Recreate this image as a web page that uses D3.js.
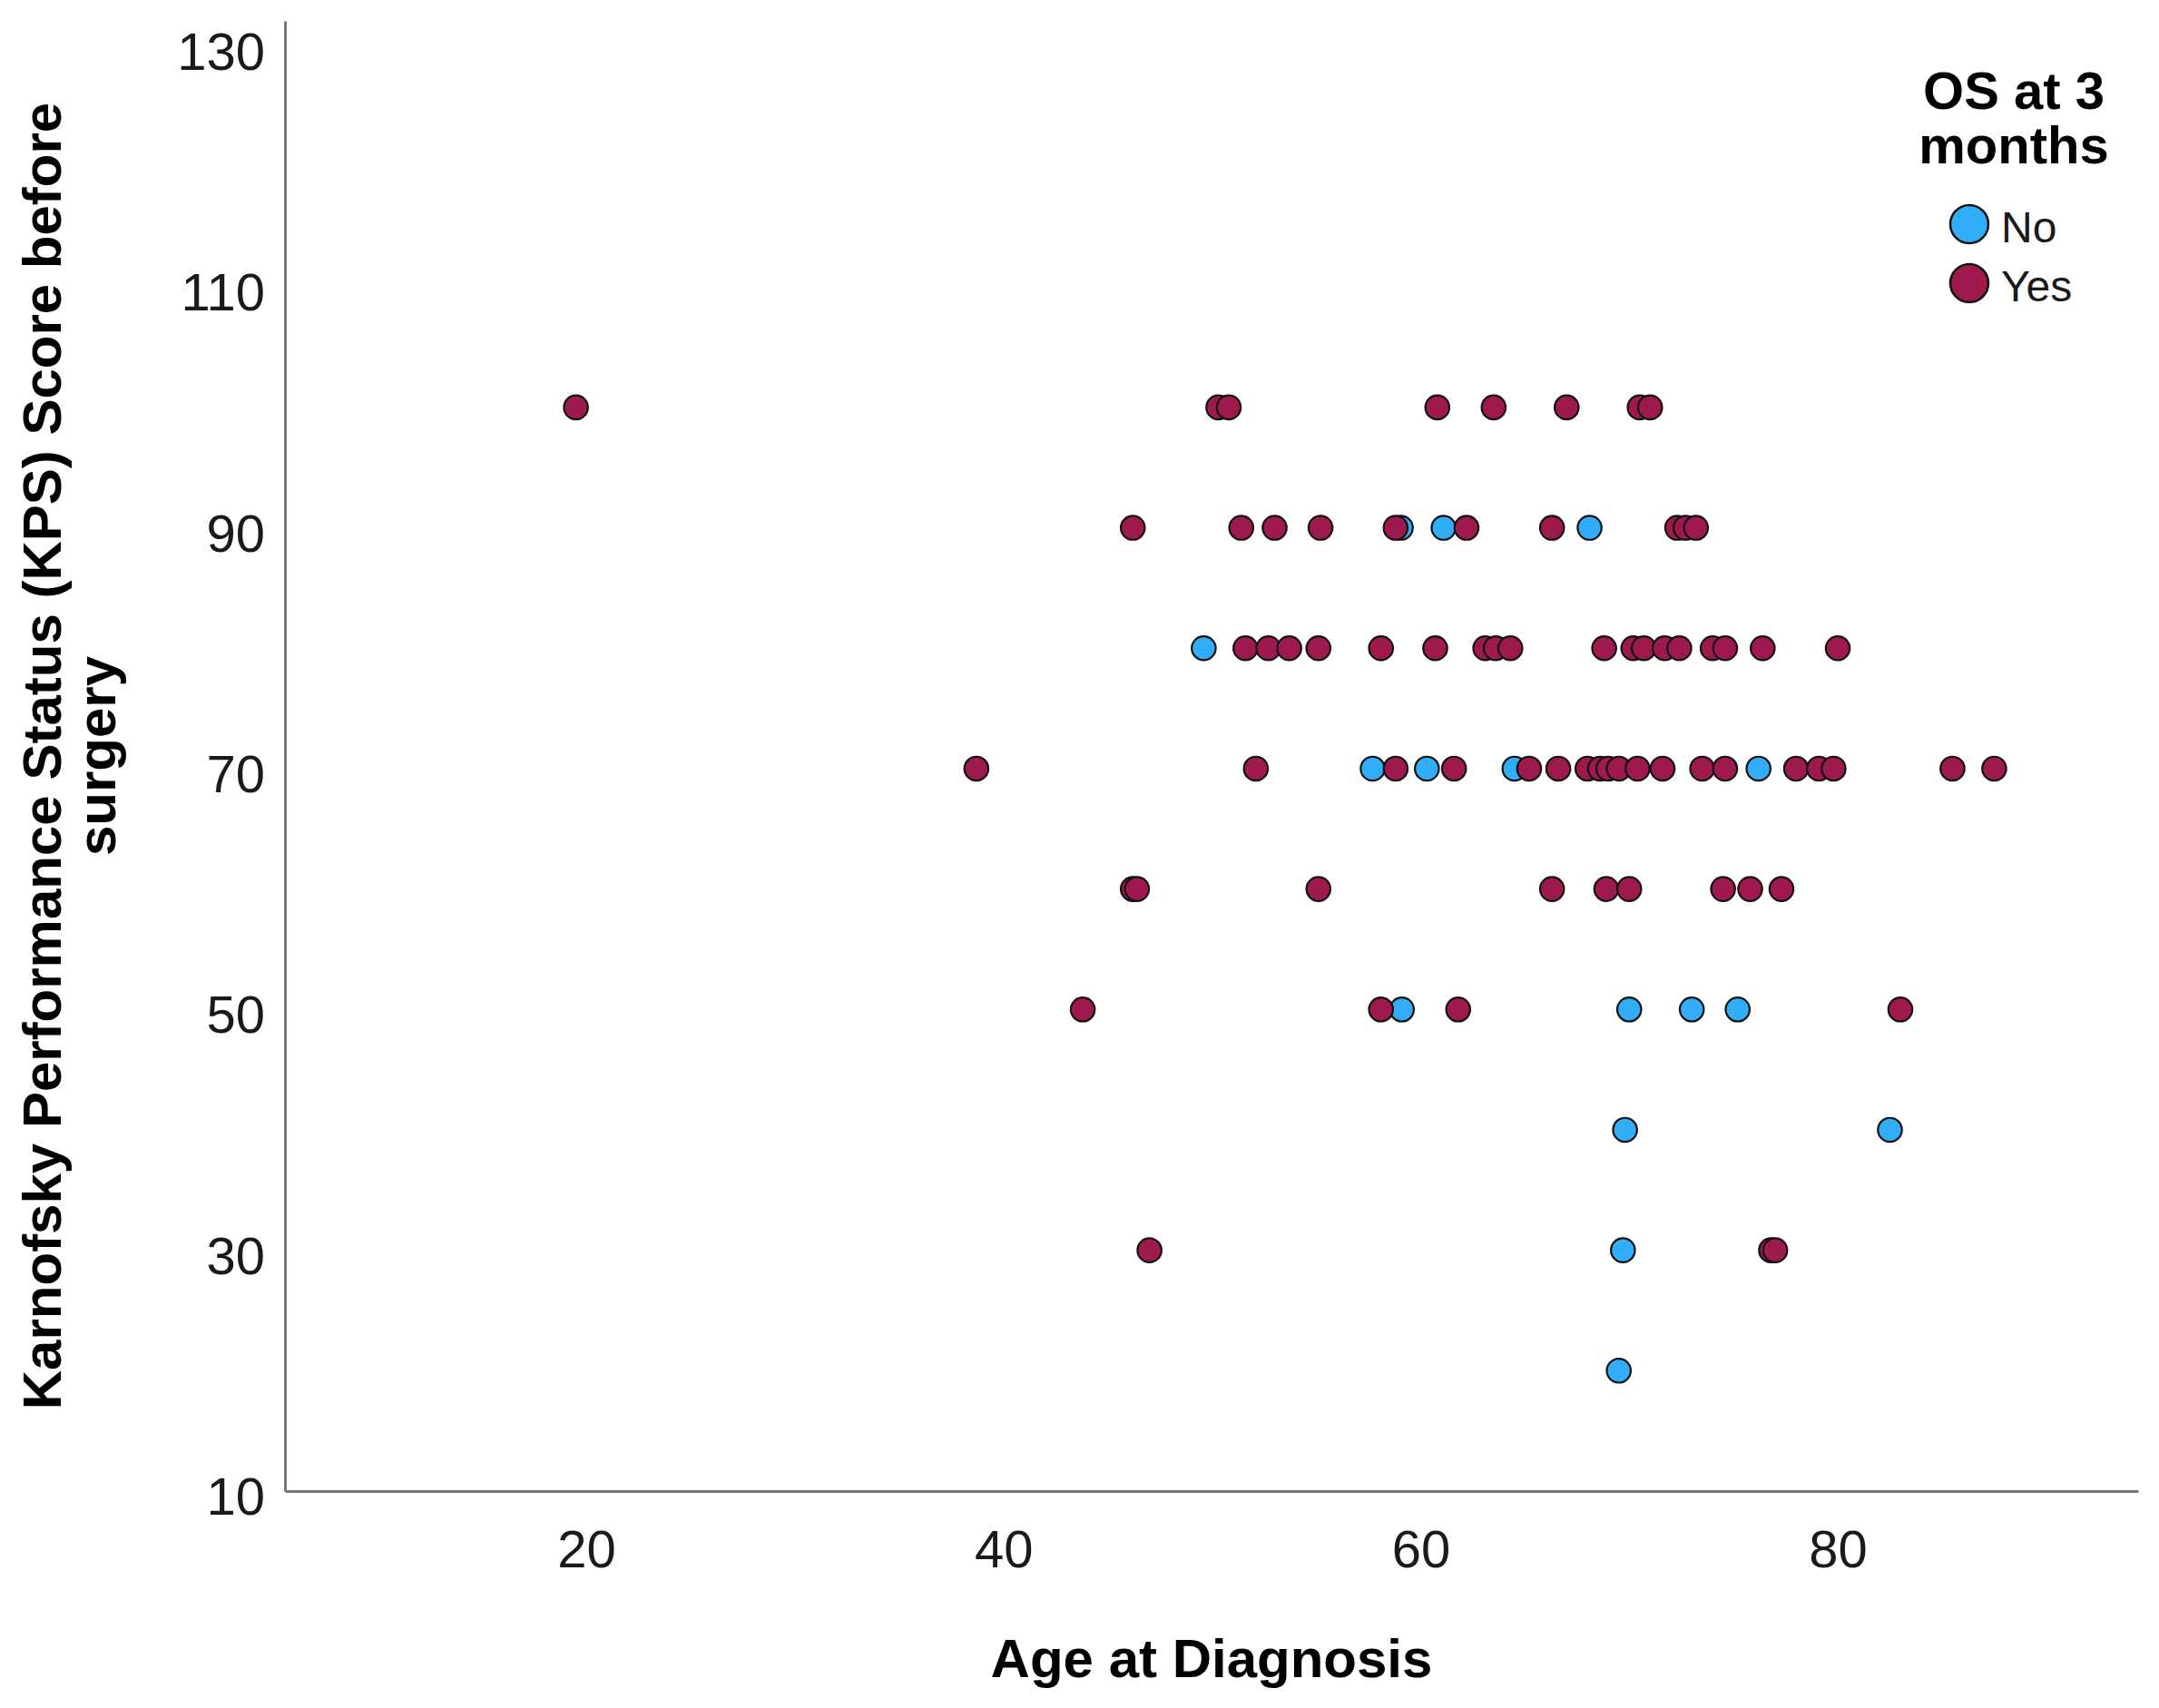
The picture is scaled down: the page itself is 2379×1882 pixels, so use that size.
<!DOCTYPE html>
<html>
<head>
<meta charset="utf-8">
<script src="https://cdn.jsdelivr.net/npm/d3@7"></script>
<style>
  html, body { margin: 0; padding: 0; background: #fff; }
  svg { display: block; }
</style>
</head>
<body>
<svg id="chart" width="2379" height="1882"></svg>
<script>
// ---- Data ----
const groups = ["No", "Yes"];
const groupColors = ["#31aef7", "#9e1a4e"];

// OS at 3 months = No
const noAge = [61.1, 68.1, 59.05,
               49.6,
               57.7, 60.3, 64.5, 76.2,
               59.1, 70.0, 73.0, 75.2,
               69.8, 82.5,
               69.7,
               69.5];
const noKps = [90, 90, 90,
               80,
               70, 70, 70, 70,
               50, 50, 50, 50,
               40, 40,
               30,
               20];

// OS at 3 months = Yes
const yesAge = [19.5, 50.3, 50.8, 60.8, 63.5, 67.0, 70.5, 71.0,
                46.2, 51.4, 53.0, 55.2, 58.8, 62.2, 66.3, 72.3, 72.7, 73.2,
                51.6, 52.7, 53.7, 55.1, 58.1, 60.7, 63.1, 63.6, 64.3, 68.8, 70.2, 70.7, 71.7, 72.4, 74.0, 74.6, 76.4, 80.0,
                38.7, 52.1, 58.8, 61.6, 65.2, 66.6, 68.0, 68.6, 69.0, 69.5, 70.4, 71.6, 73.5, 74.6, 78.0, 79.1, 79.8, 85.5, 87.5,
                46.2, 46.4, 55.1, 66.3, 68.9, 70.0, 74.5, 75.8, 77.3,
                43.8, 58.1, 61.8, 83.0,
                47.0, 76.8, 77.0];
const yesKps = [100, 100, 100, 100, 100, 100, 100, 100,
                90, 90, 90, 90, 90, 90, 90, 90, 90, 90,
                80, 80, 80, 80, 80, 80, 80, 80, 80, 80, 80, 80, 80, 80, 80, 80, 80, 80,
                70, 70, 70, 70, 70, 70, 70, 70, 70, 70, 70, 70, 70, 70, 70, 70, 70, 70, 70,
                60, 60, 60, 60, 60, 60, 60, 60, 60,
                50, 50, 50, 50,
                30, 30, 30];

const xTicks = [20, 40, 60, 80];
const yTicks = [10, 30, 50, 70, 90, 110, 130];
const xTitle = "Age at Diagnosis";
const yTitleLines = ["Karnofsky Performance Status (KPS) Score before", "surgery"];
const legendTitleLines = ["OS at 3", "months"];

(function draw() {
  const svg = d3.select("#chart");
  const pLeft = 314, pRight = 2356, pTop = 23, pBottom = 1643;

  const x = d3.scaleLinear().domain([5.55, 94.4]).range([pLeft, pRight]);
  const y = d3.scaleLinear().domain([10, 132.1]).range([pBottom, pTop]);

  const fontFam = "'Liberation Sans', Arial, sans-serif";

  const xAxis = svg.append("g")
    .attr("transform", `translate(0,${pBottom})`)
    .call(d3.axisBottom(x).tickValues(xTicks).tickSize(0).tickSizeOuter(0).tickPadding(43).tickFormat(d3.format("d")));
  const yAxis = svg.append("g")
    .attr("transform", `translate(${pLeft},0)`)
    .call(d3.axisLeft(y).tickValues(yTicks).tickSize(0).tickSizeOuter(0).tickPadding(22).tickFormat(d3.format("d")));

  [xAxis, yAxis].forEach(g => {
    g.select(".domain").attr("stroke", "#777").attr("stroke-width", 3);
    g.selectAll("text")
      .attr("font-family", fontFam)
      .attr("font-size", 58)
      .attr("fill", "#1a1a1a");
  });
  yAxis.selectAll("text").attr("dy", "0.44em");

  const series = [
    {name: groups[0], color: groupColors[0], ages: noAge, kps: noKps},
    {name: groups[1], color: groupColors[1], ages: yesAge, kps: yesKps}
  ];
  series.forEach(s => {
    svg.append("g").selectAll("circle")
      .data(s.ages.map((a, i) => ({a, k: s.kps[i]})))
      .join("circle")
      .attr("cx", d => x(d.a))
      .attr("cy", d => y(d.k))
      .attr("r", 13.2)
      .attr("fill", s.color)
      .attr("stroke", "#111")
      .attr("stroke-width", 2.2);
  });

  svg.append("text")
    .attr("x", 1335).attr("y", 1848)
    .attr("text-anchor", "middle")
    .attr("font-family", fontFam).attr("font-weight", "bold").attr("font-size", 60)
    .attr("fill", "#000")
    .text(xTitle);

  const yt = svg.append("g").attr("transform", "rotate(-90)");
  yTitleLines.forEach((t, i) => {
    yt.append("text")
      .attr("x", -833).attr("y", 67 + i * 60)
      .attr("text-anchor", "middle")
      .attr("font-family", fontFam).attr("font-weight", "bold").attr("font-size", 60)
      .attr("fill", "#000")
      .text(t);
  });

  legendTitleLines.forEach((t, i) => {
    svg.append("text")
      .attr("x", 2219).attr("y", 120 + i * 60)
      .attr("text-anchor", "middle")
      .attr("font-family", fontFam).attr("font-weight", "bold").attr("font-size", 58)
      .attr("fill", "#000")
      .text(t);
  });
  groups.forEach((g, i) => {
    const cy = 247 + i * 65;
    svg.append("circle")
      .attr("cx", 2170).attr("cy", cy).attr("r", 21)
      .attr("fill", groupColors[i]).attr("stroke", "#111").attr("stroke-width", 2.5);
    svg.append("text")
      .attr("x", 2205).attr("y", cy + 20)
      .attr("font-family", fontFam).attr("font-size", 48)
      .attr("fill", "#1a1a1a")
      .text(g);
  });
})();
</script>
</body>
</html>
